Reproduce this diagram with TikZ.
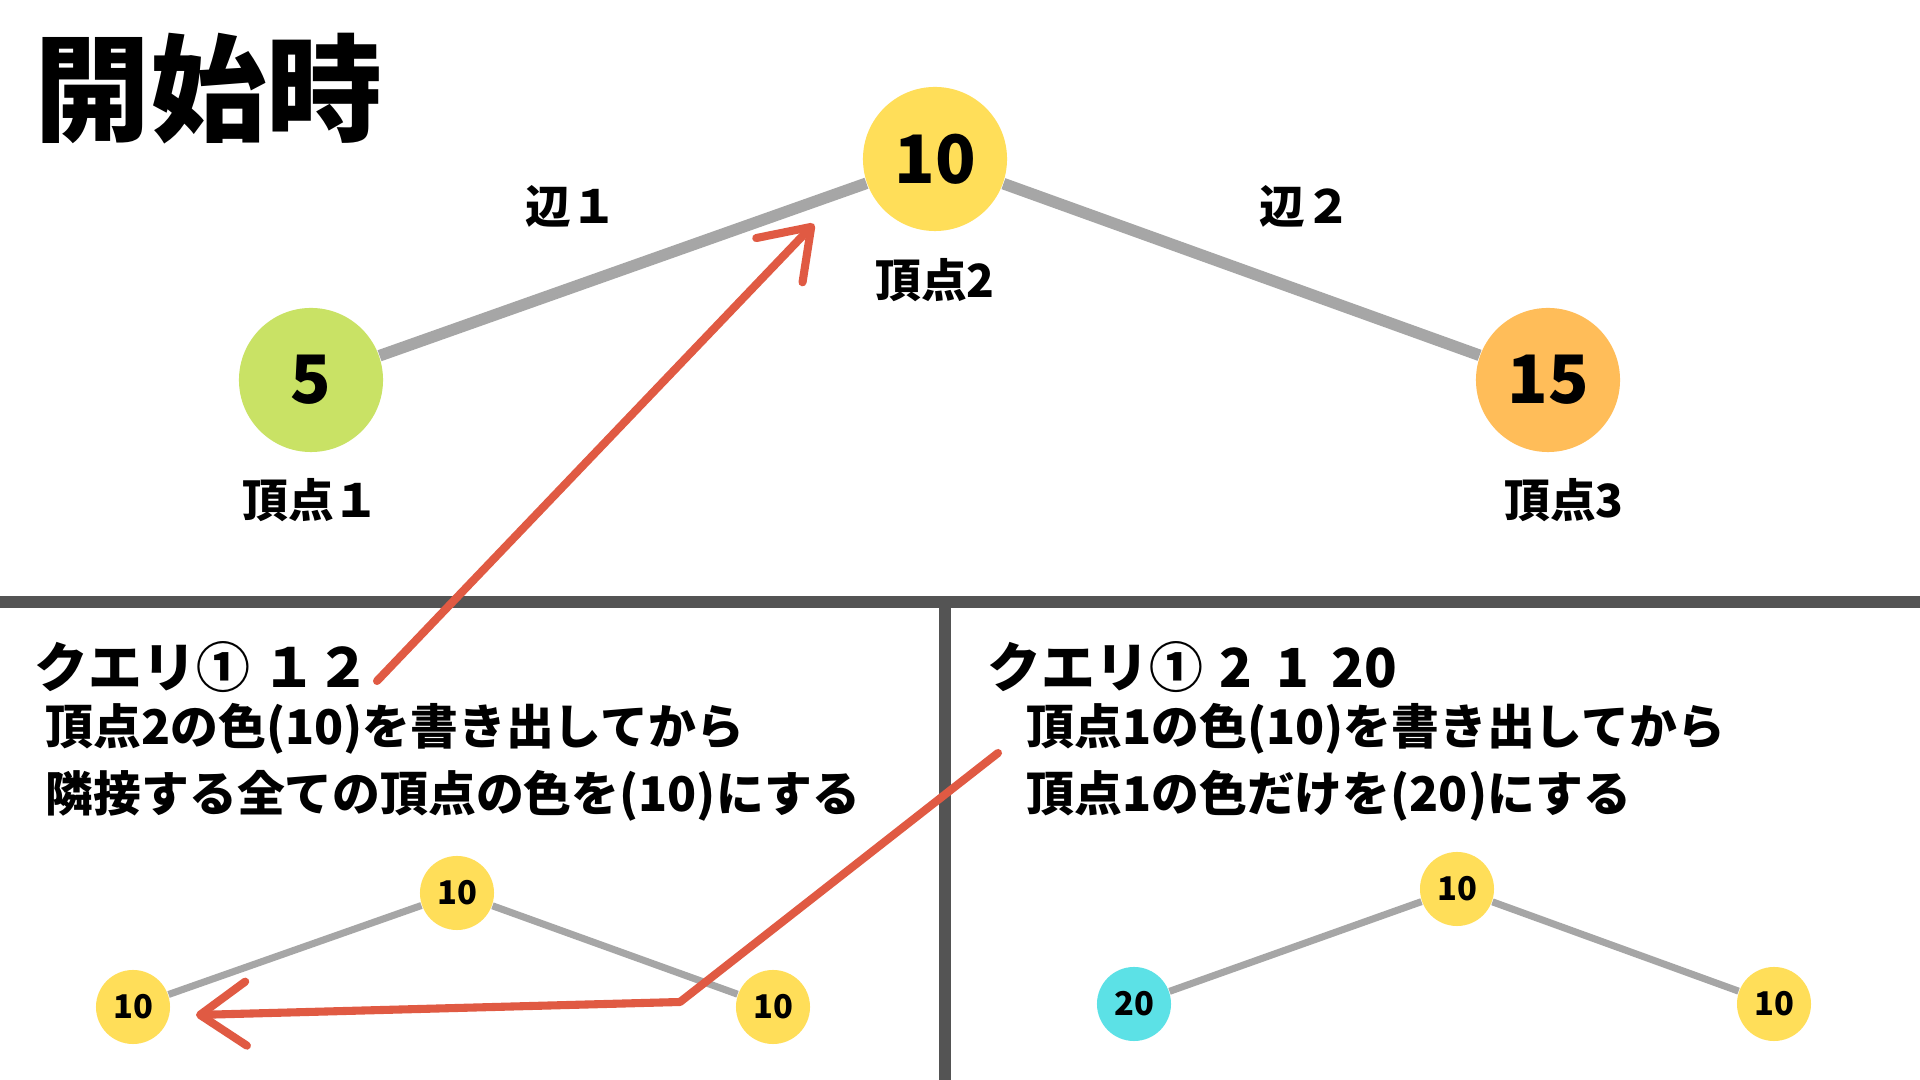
\documentclass[tikz,border=0pt]{standalone}
\usepackage{fontspec}
\setmainfont{Noto Sans CJK JP}
\usetikzlibrary{positioning,arrows.meta}

\definecolor{vgreen}{HTML}{C9E265}
\definecolor{vyellow}{HTML}{FFDE59}
\definecolor{vorange}{HTML}{FFBD59}
\definecolor{vcyan}{HTML}{5CE1E6}
\definecolor{edgegray}{HTML}{A6A6A6}
\definecolor{divgray}{HTML}{545454}
\definecolor{arrowred}{HTML}{E05A43}

\begin{document}
\begin{tikzpicture}[
                x=0.01cm, y=-0.01cm,
                >={Straight Barb[length=4.6mm,width=6.4mm,round]},
                vertex/.style={circle, fill=#1, minimum size=1.44cm, inner sep=0pt,
                               font=\fontsize{19}{19}\selectfont\bfseries},
                minivertex/.style={circle, fill=#1, minimum size=0.74cm, inner sep=0pt,
                               font=\fontsize{9.3}{9.3}\selectfont\bfseries},
                vlabel/.style={inner sep=0pt, font=\fontsize{13}{13}\selectfont\bfseries},
                header/.style={anchor=west, inner sep=0pt, font=\fontsize{15.3}{15.3}\selectfont\bfseries},
                body/.style={anchor=west, inner sep=0pt, font=\fontsize{13.6}{13.6}\selectfont\bfseries},
                bigedge/.style={draw=edgegray, line width=3.3pt},
                miniedge/.style={draw=edgegray, line width=2pt},
                divider/.style={draw=divgray, line width=3.4pt},
                pointer/.style={draw=arrowred, line width=2.3pt, line cap=round, line join=round, ->}
                ]

                \useasboundingbox[fill=white] (0,0) rectangle (1920,1080);

                \node [anchor=west, inner sep=0pt, font=\fontsize{33}{33}\selectfont\bfseries] (title) at (34,89) {開始時};

                \node [vertex=vgreen] (v1) at (311,380) {5};
                \node [vertex=vyellow] (v2) at (935,159) {10};
                \node [vertex=vorange] (v3) at (1548,380) {15};

                \node [vlabel] (v1lab) at (311,500) {頂点１};
                \node [vlabel] (v2lab) at (935,280) {頂点2};
                \node [vlabel] (v3lab) at (1564,500) {頂点3};

                \node [vlabel] (e1lab) at (571,206) {辺１};
                \node [vlabel] (e2lab) at (1305,206) {辺２};

                \draw[bigedge] (v1) -- (v2);
                \draw[bigedge] (v2) -- (v3);

                \draw[divider] (0,602) -- (1920,602);
                \draw[divider] (945,602) -- (945,1080);

                \node [header] (q1head) at (34,667) {クエリ① １２};
                \node [body] (q1line1) at (45,729) {頂点2の色(10)を書き出してから};
                \node [body] (q1line2) at (45,796) {隣接する全ての頂点の色を(10)にする};

                \node [minivertex=vyellow] (l1) at (133,1007) {10};
                \node [minivertex=vyellow] (l2) at (457,893) {10};
                \node [minivertex=vyellow] (l3) at (773,1007) {10};

                \draw[miniedge] (l1) -- (l2);
                \draw[miniedge] (l2) -- (l3);

                \node [header] (q2head) at (987,667) {クエリ①\hspace{0.3em}2\hspace{0.45em}1\hspace{0.42em}20};
                \node [body] (q2line1) at (1026,729) {頂点1の色(10)を書き出してから};
                \node [body] (q2line2) at (1026,796) {頂点1の色だけを(20)にする};

                \node [minivertex=vcyan] (r1) at (1134,1004) {20};
                \node [minivertex=vyellow] (r2) at (1457,889) {10};
                \node [minivertex=vyellow] (r3) at (1774,1004) {10};

                \draw[miniedge] (r1) -- (r2);
                \draw[miniedge] (r2) -- (r3);

                \coordinate (a1start) at (377,681);
                \coordinate (a1end) at (814,224);
                \coordinate (a2start) at (998,753);
                \coordinate (a2bend) at (680,1002);
                \coordinate (a2end) at (196,1015);

                \draw[pointer] (a1start) -- (a1end);
                \draw[pointer] (a2start) -- (a2bend) -- (a2end);

\end{tikzpicture}
\end{document}
